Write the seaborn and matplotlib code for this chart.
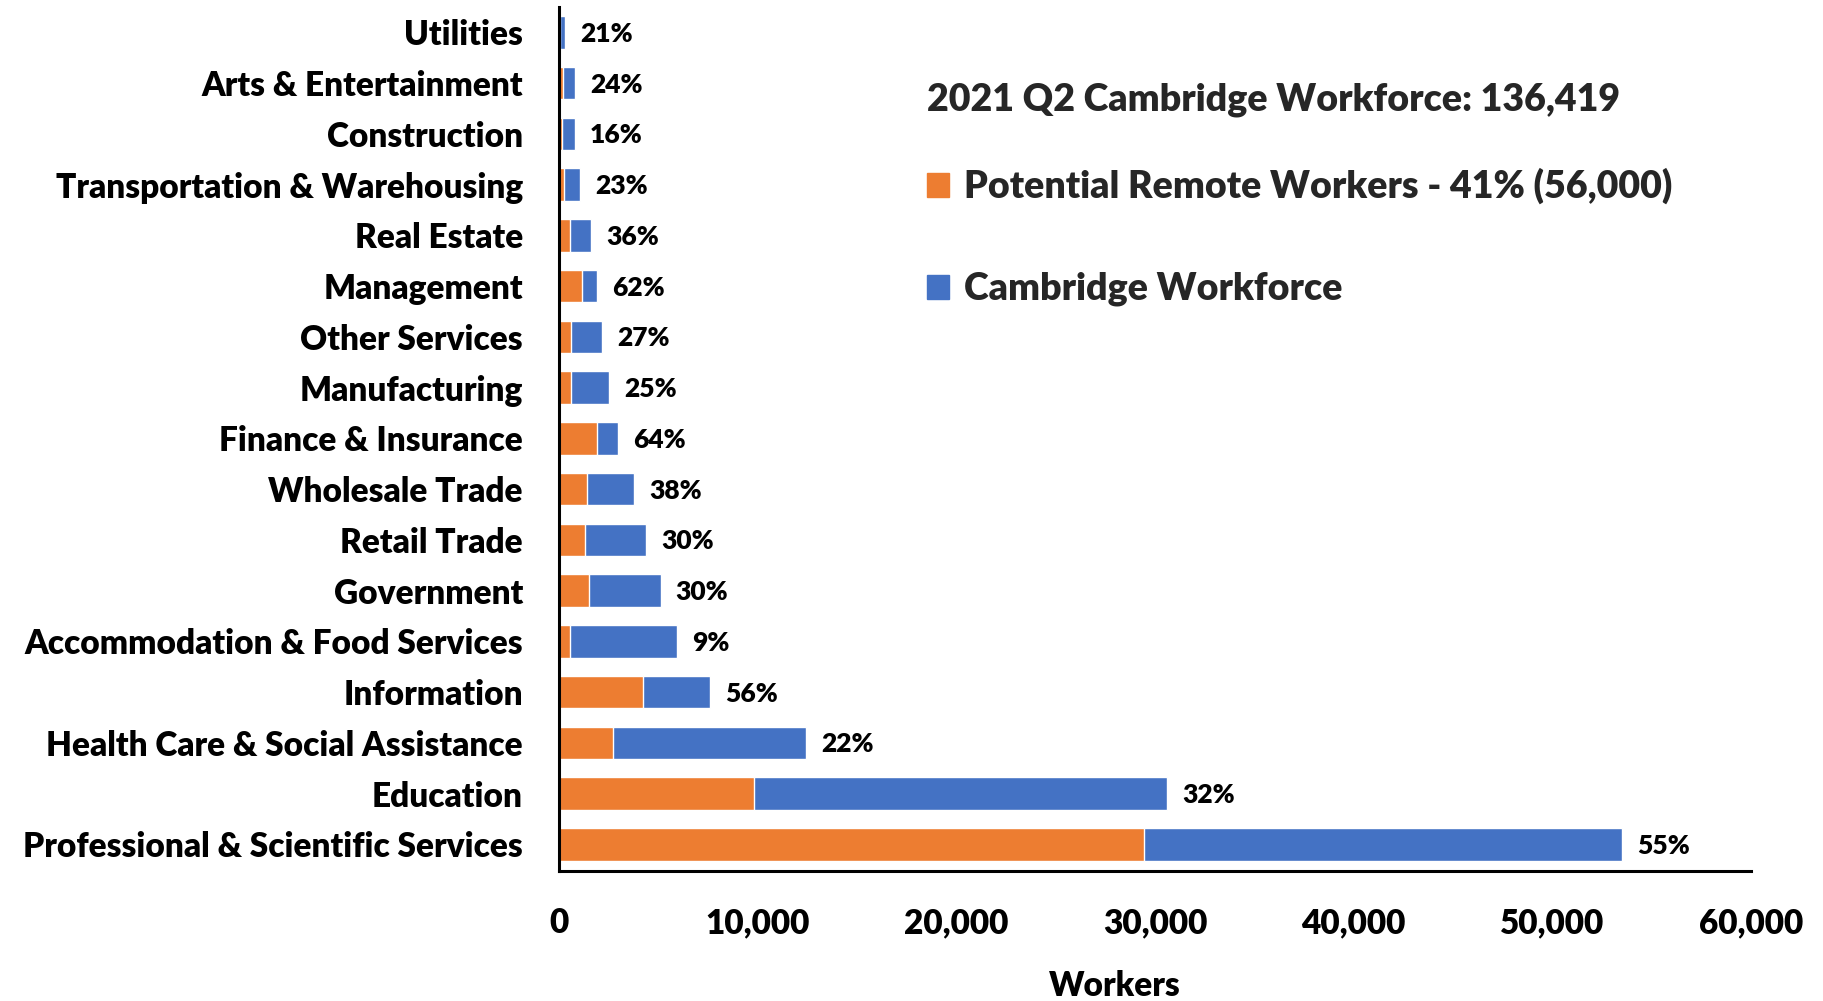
import matplotlib
matplotlib.use("Agg")
import matplotlib.pyplot as plt
import matplotlib.patches as mpatches
import seaborn as sns
import pandas as pd

# Industries, listed top to bottom
industries = [
    "Utilities", "Arts & Entertainment", "Construction",
    "Transportation & Warehousing", "Real Estate", "Management",
    "Other Services", "Manufacturing", "Finance & Insurance",
    "Wholesale Trade", "Retail Trade", "Government",
    "Accommodation & Food Services", "Information",
    "Health Care & Social Assistance", "Education",
    "Professional & Scientific Services",
]
# Total workers per industry
workforce = [287, 790, 790, 1040, 1596, 1900, 2151, 2504, 2957,
             3763, 4368, 5108, 5914, 7577, 12413, 30590, 53500]
# Share of each industry's workers who could work remotely (%)
remote_pct = [21, 24, 16, 23, 36, 62, 27, 25, 64,
              38, 30, 30, 9, 56, 22, 32, 55]

x_ticks = [0, 10000, 20000, 30000, 40000, 50000, 60000]

df = pd.DataFrame({"industry": industries, "workforce": workforce, "pct": remote_pct})
df["remote"] = df["workforce"] * df["pct"] / 100.0

ORANGE = "#ED7D31"
BLUE = "#4472C4"
WEIGHT = "heavy"

sns.set_theme(style="white")
plt.rcParams["font.family"] = ["Lato", "DejaVu Sans"]
plt.rcParams["font.weight"] = WEIGHT

fig = plt.figure(figsize=(18.24, 10.01), dpi=100)
ax = fig.add_axes([0.3065, 0.130, 0.6535, 0.863])

sns.barplot(data=df, y="industry", x="workforce", order=industries,
            color=BLUE, saturation=1, width=0.64, orient="h", ax=ax)
sns.barplot(data=df, y="industry", x="remote", order=industries,
            color=ORANGE, saturation=1, width=0.64, orient="h", ax=ax)

for i, (tot, p) in enumerate(zip(df["workforce"], df["pct"])):
    ax.annotate(f"{p}%", xy=(tot, i), xytext=(11, -1), textcoords="offset points",
                ha="left", va="center", fontsize=19, fontweight=WEIGHT, color="black")

ax.set_xlim(0, 60000)
ax.set_ylim(len(industries) - 0.48, -0.5)
ax.set_xticks(x_ticks)
ax.set_xticklabels([f"{v:,}" for v in x_ticks])
ax.tick_params(axis="x", length=0, pad=26, labelsize=24)
ax.tick_params(axis="y", length=0, pad=26, labelsize=24)
for lab in ax.get_xticklabels() + ax.get_yticklabels():
    lab.set_fontweight(WEIGHT)
    lab.set_color("black")

ax.set_ylabel("")
ax.set_xlabel("Workers", fontsize=24, fontweight=WEIGHT, color="black")
ax.xaxis.set_label_coords(0.466, -0.115)

for side in ["top", "right"]:
    ax.spines[side].set_visible(False)
for side in ["left", "bottom"]:
    ax.spines[side].set_color("black")
    ax.spines[side].set_linewidth(2.2)

handles = [mpatches.Patch(color=ORANGE, label="Potential Remote Workers - 41% (56,000)"),
           mpatches.Patch(color=BLUE, label="Cambridge Workforce")]
leg = fig.legend(handles=handles, title="2021 Q2 Cambridge Workforce: 136,419",
                 loc="upper left", bbox_to_anchor=(0.500, 0.933), frameon=False,
                 prop={"size": 27, "weight": WEIGHT},
                 title_fontproperties={"size": 27, "weight": WEIGHT},
                 alignment="left", handlelength=0.6, handleheight=0.6,
                 handletextpad=0.4, labelspacing=1.8, borderaxespad=0)
leg._legend_box.sep = 37

fig.savefig("out.png", dpi=100, facecolor="white")
